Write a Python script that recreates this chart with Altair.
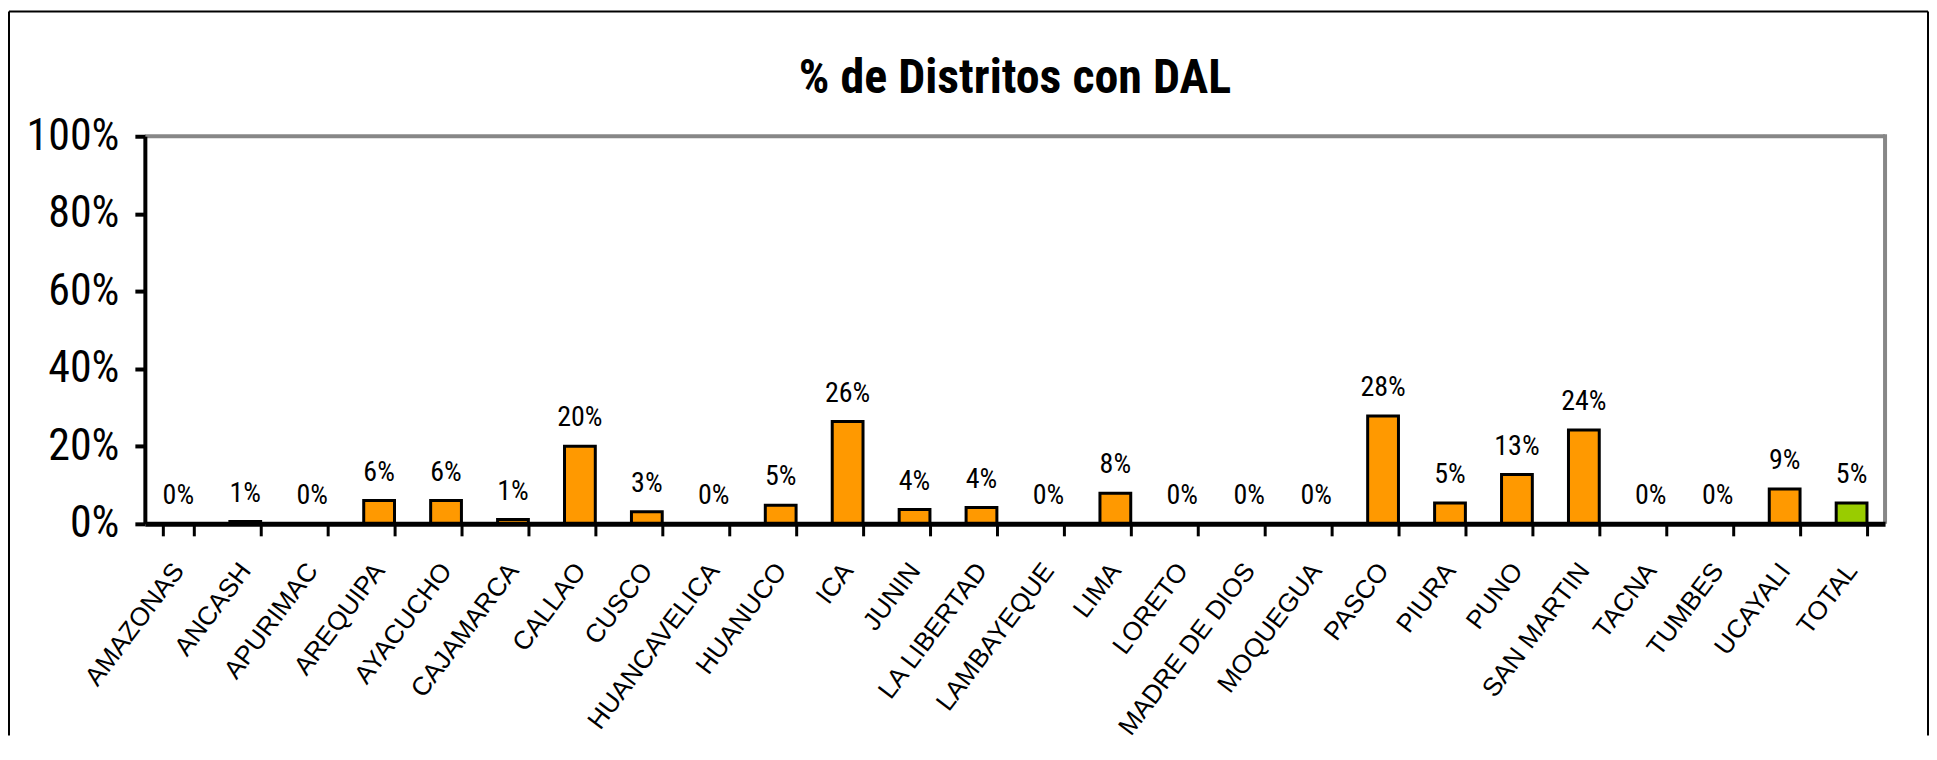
import altair as alt
import pandas as pd

categories = ["AMAZONAS", "ANCASH", "APURIMAC", "AREQUIPA", "AYACUCHO", "CAJAMARCA",
              "CALLAO", "CUSCO", "HUANCAVELICA", "HUANUCO", "ICA", "JUNIN",
              "LA LIBERTAD", "LAMBAYEQUE", "LIMA", "LORETO", "MADRE DE DIOS",
              "MOQUEGUA", "PASCO", "PIURA", "PUNO", "SAN MARTIN", "TACNA",
              "TUMBES", "UCAYALI", "TOTAL"]
values = [0.0, 0.006, 0.0, 0.060, 0.060, 0.011,
          0.200, 0.031, 0.0, 0.048, 0.264, 0.037,
          0.042, 0.0, 0.079, 0.0, 0.0,
          0.0, 0.278, 0.054, 0.127, 0.242, 0.0,
          0.0, 0.090, 0.054]
groups = ["Departamento"] * 25 + ["Total"]
title_text = "% de Distritos con DAL"

df = pd.DataFrame({"cat": categories, "val": values, "grp": groups})

NARROW = "Liberation Sans Narrow, Arial Narrow, Roboto Condensed, DejaVu Sans Condensed, sans-serif"
ARIAL = "Liberation Sans, Arial, sans-serif"

W, H = 1742, 388

x = alt.X("cat:N", sort=categories, title=None,
          scale=alt.Scale(paddingInner=0.54, paddingOuter=0.27),
          axis=alt.Axis(labelAngle=307, labelAlign="right", labelBaseline="middle",
                        labelFont=ARIAL, labelFontSize=26, labelColor="black",
                        labelPadding=30, labelOverlap=False, labelLimit=500,
                        tickBand="extent", tickSize=12, tickWidth=3, tickColor="black",
                        domainColor="black", domainWidth=5, zindex=2))
y = alt.Y("val:Q", title=None,
          scale=alt.Scale(domain=[0, 1]),
          axis=alt.Axis(values=[0, 0.2, 0.4, 0.6, 0.8, 1.0], format=".0%",
                        labelFont=NARROW, labelFontSize=44, labelColor="black",
                        labelPadding=16, grid=False,
                        tickSize=10, tickWidth=4, tickColor="black",
                        domainColor="black", domainWidth=4, zindex=2))

frame_df = pd.DataFrame({"k": [0]})

plot_top = alt.Chart(frame_df).mark_rule(color="#878787", strokeWidth=4).encode(
    x=alt.value(0), x2=alt.value(W), y=alt.value(0))
plot_right = alt.Chart(frame_df).mark_rule(color="#878787", strokeWidth=4).encode(
    x=alt.value(W), y=alt.value(-2), y2=alt.value(H))

base = alt.Chart(df)

bars = base.mark_bar(stroke="black", strokeWidth=3).encode(
    x=x, y=y,
    color=alt.Color("grp:N", scale=alt.Scale(domain=["Departamento", "Total"],
                                             range=["#FF9900", "#99CC00"]),
                    legend=None),
)

labels = base.mark_text(font=NARROW, fontSize=28, color="black", baseline="alphabetic",
                        dy=-20).encode(
    x=alt.X("cat:N", sort=categories),
    y=alt.Y("val:Q"),
    text=alt.Text("val:Q", format=".0%"),
)

frame_left = alt.Chart(frame_df).mark_rule(color="black", strokeWidth=2).encode(
    x=alt.value(-136), y=alt.value(-125), y2=alt.value(600))
frame_top = alt.Chart(frame_df).mark_rule(color="black", strokeWidth=2).encode(
    x=alt.value(-136), x2=alt.value(1785), y=alt.value(-125))
frame_right = alt.Chart(frame_df).mark_rule(color="black", strokeWidth=2).encode(
    x=alt.value(1785), y=alt.value(-125), y2=alt.value(600))

title = alt.Chart(frame_df).mark_text(font=NARROW, fontSize=48, fontWeight="bold",
                                      color="black", align="center",
                                      baseline="alphabetic").encode(
    x=alt.value(871), y=alt.value(-43), text=alt.value(title_text))

chart = alt.layer(plot_top, plot_right, bars, labels,
                  frame_left, frame_top, frame_right, title).properties(
    width=W,
    height=H,
    padding={"left": 0, "top": 2, "right": 0, "bottom": 0},
).configure_view(strokeWidth=0).configure(background="white")

chart.save("out.html", embed_options={"renderer": "svg", "actions": False})
